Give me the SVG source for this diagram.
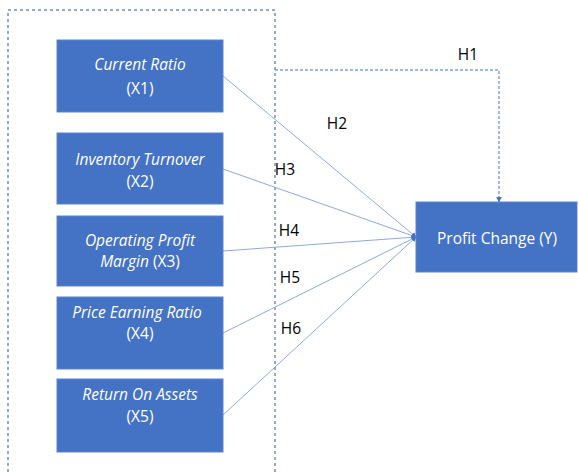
<svg xmlns="http://www.w3.org/2000/svg" width="578" height="472" viewBox="0 0 578 472">
<style>
.box{fill:#4472C4;stroke:#5B84CC;stroke-width:1}
.t{font-family:"Open Sans","Liberation Sans",sans-serif;font-size:15.5px;fill:#FFFFFF;text-anchor:middle}
.i{font-style:italic}
.h{font-family:"Open Sans","Liberation Sans",sans-serif;font-size:15.5px;fill:#000000;text-anchor:middle}
.ln{stroke:#8EAADB;stroke-width:1;fill:none;marker-end:url(#ah)}
.dash{stroke:#2F5597;stroke-width:1;fill:none;stroke-dasharray:3 3}
.dash2{stroke:#4472C4;stroke-width:1;fill:none;stroke-dasharray:3 2;marker-end:url(#ah2)}
</style>
<defs>
<marker id="ah" viewBox="0 0 10 10" refX="9" refY="5" markerWidth="5" markerHeight="5" orient="auto" markerUnits="userSpaceOnUse">
<path d="M0,0 L10,5 L0,10 Z" fill="#4472C4"/>
</marker>
<marker id="ah2" viewBox="0 0 10 10" refX="9" refY="5" markerWidth="6" markerHeight="6" orient="auto" markerUnits="userSpaceOnUse">
<path d="M0,0 L10,5 L0,10 Z" fill="#4472C4"/>
</marker>
</defs>
<rect width="578" height="472" fill="#FFFFFF"/>
<g id="group-border">
<path class="dash" d="M8,472 L8,10 L275,10 L275,472"/>
</g>
<g id="connectors">
<line class="ln" x1="223" y1="76" x2="416" y2="237"/>
<line class="ln" x1="223" y1="169" x2="416" y2="237"/>
<line class="ln" x1="223" y1="251" x2="416" y2="237"/>
<line class="ln" x1="223" y1="333" x2="416" y2="237"/>
<line class="ln" x1="223" y1="415" x2="416" y2="237"/>
<path class="dash2" d="M275,70 L499,70 L499,202"/>
<text class="h" x="468" y="60">H1</text>
<text class="h" x="337" y="129">H2</text>
<text class="h" x="285" y="175">H3</text>
<text class="h" x="289" y="236">H4</text>
<text class="h" x="290" y="283">H5</text>
<text class="h" x="291" y="334">H6</text>
</g>
<g id="x1">
<rect class="box" x="57" y="40" width="166" height="72"/>
<text class="t i" x="140" y="70">Current Ratio</text>
<text class="t" x="140" y="94">(X1)</text>
</g>
<g id="x2">
<rect class="box" x="57" y="133" width="166" height="71"/>
<text class="t i" x="140" y="165">Inventory Turnover</text>
<text class="t" x="140" y="187">(X2)</text>
</g>
<g id="x3">
<rect class="box" x="57" y="216" width="166" height="70"/>
<text class="t i" x="140" y="246">Operating Profit</text>
<text class="t" x="140" y="267"><tspan font-style="italic">Margin</tspan> (X3)</text>
</g>
<g id="x4">
<rect class="box" x="57" y="297" width="166" height="72"/>
<text class="t i" x="137" y="318">Price Earning Ratio</text>
<text class="t" x="140" y="339">(X4)</text>
</g>
<g id="x5">
<rect class="box" x="57" y="379" width="166" height="73"/>
<text class="t i" x="140" y="400">Return On Assets</text>
<text class="t" x="140" y="422">(X5)</text>
</g>
<g id="y">
<rect class="box" x="416" y="202" width="161" height="70"/>
<text class="t" x="497" y="244">Profit Change (Y)</text>
</g>
</svg>
